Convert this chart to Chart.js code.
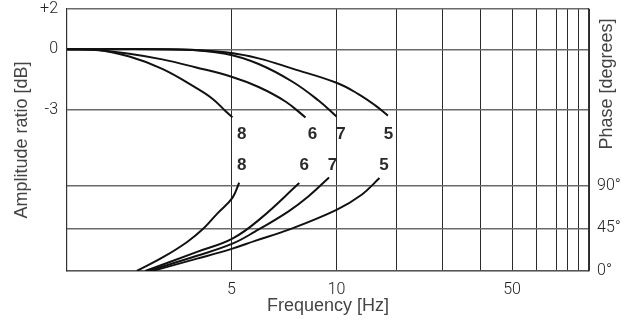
<!DOCTYPE html>
<html>
<head>
<meta charset="utf-8">
<script src="https://cdn.jsdelivr.net/npm/chart.js@4.4.0/dist/chart.umd.min.js"></script>
<style>
  html, body { margin: 0; padding: 0; background: #fff; }
  #chart { display: block; }
</style>
</head>
<body>
<canvas id="chart" width="631" height="321"></canvas>
<script>
Chart.defaults.font.family = 'Roboto';
Chart.defaults.color = '#222';

// frequency grid (Hz) and where each grid line sits along the axis (0..1)
const gridHz = [1, 5, 10, 20, 30, 40, 50, 60, 70, 80, 90, 100];
const axisStops = [0, 0.3151, 0.5163, 0.6303, 0.7184, 0.7931, 0.8525, 0.8985, 0.9368, 0.9579, 0.9808, 1];
const hzLabels = [5, 10, 50];
const dbTicks = [2, 0, -3];
const phaseTicks = [0, 45, 90];

// amplitude ratio [dB]
const amp8Hz = [1, 1.32, 1.84, 2.54, 3.51, 4.15, 4.71, 5.03];
const amp8Db = [0, -0.01, -0.36, -0.97, -1.89, -2.45, -3.06, -3.38];
const amp6Hz = [1, 1.32, 1.84, 2.54, 3.51, 5.0, 5.98, 7.14, 8.15];
const amp6Db = [0, -0.03, -0.22, -0.5, -0.89, -1.36, -1.87, -2.59, -3.38];
const amp7Hz = [1, 3.0, 4.71, 5.98, 7.48, 8.88, 10];
const amp7Db = [0, -0.01, -0.22, -0.73, -1.61, -2.54, -3.33];
const amp5Hz = [1, 3.0, 4.71, 5.98, 7.48, 10, 12.9, 15.7, 18.2];
const amp5Db = [0, -0.01, -0.15, -0.45, -0.96, -1.66, -2.22, -2.78, -3.29];

// phase [degrees]
const ph8Hz = [1.98, 2.57, 3.24, 3.8, 4.35, 5.03, 5.26];
const ph8Deg = [0, 14.8, 30.6, 44.7, 60.5, 77.1, 93.0];
const ph6Hz = [2.15, 3.57, 5.03, 6.04, 7.82];
const ph6Deg = [0, 20.1, 34.1, 54.9, 92.6];
const ph7Hz = [2.21, 3.57, 5.03, 5.84, 7.27, 8.3, 9.52];
const ph7Deg = [0, 16, 28.8, 41.5, 62.6, 78.5, 98.6];
const ph5Hz = [2.3, 3.57, 5.03, 5.84, 7.27, 10, 13.4, 16.5];
const ph5Deg = [0, 13, 23.6, 31.7, 43.3, 64.4, 80.3, 97.9];

// curve numbers
const curveNames = ['8', '6', '7', '5'];
const ampLabelHz = [5.35, 8.53, 10.53, 18.34];
const ampLabelDb = [-4.2, -4.2, -4.2, -4.2];
const phLabelHz = [5.35, 8.08, 9.73, 17.37];
const phLabelDeg = [111, 111, 111, 111];

function warp(hz) {
    let i = 0;
    while (i < gridHz.length - 2 && hz > gridHz[i + 1]) i++;
    const t = Math.log(hz / gridHz[i]) / Math.log(gridHz[i + 1] / gridHz[i]);
    return axisStops[i] + t * (axisStops[i + 1] - axisStops[i]);
}

function unwarp(d) {
    let i = 0;
    while (i < axisStops.length - 2 && d > axisStops[i + 1]) i++;
    const t = (d - axisStops[i]) / (axisStops[i + 1] - axisStops[i]);
    return gridHz[i] * Math.pow(gridHz[i + 1] / gridHz[i], t);
}

// frequency axis of the original drawing is not a clean log scale
class WarpScale extends Chart.LinearScale {
    static id = 'warp';
    buildTicks() {
        return gridHz.slice(1).map(v => ({ value: v }));
    }
    getPixelForValue(v) {
        return this.getPixelForDecimal(warp(v));
    }
    getValueForPixel(px) {
        return unwarp(this.getDecimalForPixel(px));
    }
}
Chart.register(WarpScale);

const pts = (xs, ys) => xs.map((x, i) => ({ x: x, y: ys[i] }));

const line = (label, xs, ys, axis) => ({
    type: 'line',
    label: label,
    data: pts(xs, ys),
    yAxisID: axis,
    borderColor: '#111',
    borderWidth: 2,
    pointRadius: 0,
    fill: false,
    tension: 0.4
});

const curveLabels = {
    id: 'curveLabels',
    afterDatasetsDraw(chart) {
        const { ctx, scales: { x, yDb, yPh } } = chart;
        ctx.save();
        ctx.fillStyle = '#2a2a2a';
        ctx.font = 'bold 17px "Liberation Sans"';
        ctx.textAlign = 'center';
        ctx.textBaseline = 'middle';
        curveNames.forEach((n, i) => {
            ctx.fillText(n, x.getPixelForValue(ampLabelHz[i]), yDb.getPixelForValue(ampLabelDb[i]));
            ctx.fillText(n, x.getPixelForValue(phLabelHz[i]), yPh.getPixelForValue(phLabelDeg[i]));
        });
        ctx.restore();
    }
};

// right title reads bottom to top and sits on the upper half
const phaseTitle = {
    id: 'phaseTitle',
    afterDraw(chart) {
        const { ctx, chartArea } = chart;
        ctx.save();
        ctx.translate(chart.width - 24, chartArea.top + 75);
        ctx.rotate(-Math.PI / 2);
        ctx.fillStyle = '#444';
        ctx.font = '18px "Liberation Sans"';
        ctx.textAlign = 'center';
        ctx.textBaseline = 'middle';
        ctx.fillText('Phase [degrees]', 0, 0);
        ctx.restore();
    }
};

const tickFont = { family: 'Roboto', size: 16, weight: '300' };
const titleFont = { family: 'Liberation Sans', size: 18 };

const fixSide = w => s => {
    s.width = w;
    s.paddingTop = 0;
    s.paddingBottom = 0;
};

new Chart(document.getElementById('chart'), {
    data: {
        datasets: [
            line('8', amp8Hz, amp8Db, 'yDb'),
            line('6', amp6Hz, amp6Db, 'yDb'),
            line('7', amp7Hz, amp7Db, 'yDb'),
            line('5', amp5Hz, amp5Db, 'yDb'),
            line('8', ph8Hz, ph8Deg, 'yPh'),
            line('6', ph6Hz, ph6Deg, 'yPh'),
            line('7', ph7Hz, ph7Deg, 'yPh'),
            line('5', ph5Hz, ph5Deg, 'yPh')
        ]
    },
    options: {
        responsive: false,
        animation: false,
        layout: { padding: { top: 9, left: 0, right: 0, bottom: 0 } },
        plugins: {
            legend: { display: false },
            tooltip: { enabled: false }
        },
        scales: {
            x: {
                type: 'warp',
                min: 1,
                max: 100,
                afterFit: s => { s.height = 50; s.paddingLeft = 0; s.paddingRight = 0; },
                grid: { color: '#2b2b2b', lineWidth: 1, drawTicks: false },
                border: { color: '#555', width: 1.3 },
                ticks: {
                    autoSkip: false,
                    maxRotation: 0,
                    padding: 9,
                    font: tickFont,
                    callback: v => hzLabels.includes(v) ? String(v) : ''
                },
                title: {
                    display: true,
                    text: 'Frequency [Hz]',
                    color: '#444',
                    font: titleFont,
                    padding: { top: 0, bottom: 4 }
                }
            },
            yDb: {
                type: 'linear',
                position: 'left',
                min: -11,
                max: 2,
                afterFit: fixSide(67),
                afterBuildTicks: s => { s.ticks = dbTicks.map(v => ({ value: v })); },
                grid: { color: '#6a6a6a', lineWidth: 1.4, drawTicks: false },
                border: { color: '#333', width: 1.2 },
                ticks: {
                    padding: 9,
                    font: tickFont,
                    callback: v => v > 0 ? '+' + v : String(v)
                },
                title: {
                    display: true,
                    text: 'Amplitude ratio [dB]',
                    color: '#444',
                    font: titleFont,
                    padding: { top: 11, bottom: 0 }
                }
            },
            yPh: {
                type: 'linear',
                position: 'right',
                min: 0,
                max: 276,
                afterFit: fixSide(42),
                afterBuildTicks: s => { s.ticks = phaseTicks.map(v => ({ value: v })); },
                grid: { color: '#6a6a6a', lineWidth: 1.4, drawTicks: false },
                border: { color: '#333', width: 1.2 },
                ticks: {
                    padding: 8,
                    font: tickFont,
                    callback: v => v + '°'
                }
            }
        }
    },
    plugins: [curveLabels, phaseTitle]
});
</script>
</body>
</html>
